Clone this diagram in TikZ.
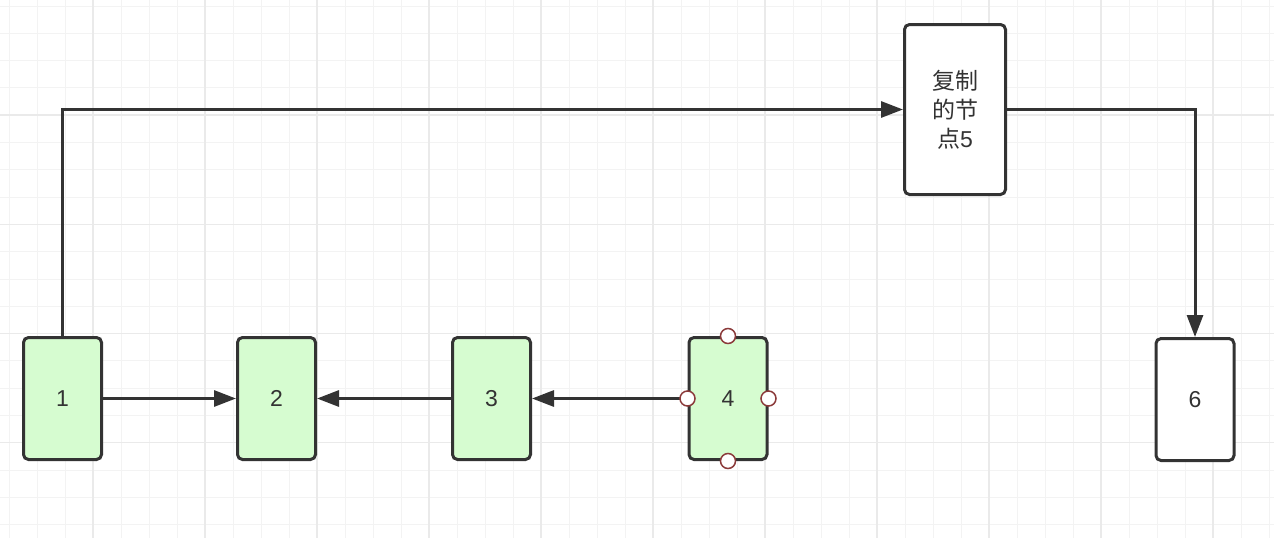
\documentclass[tikz,border=0pt]{standalone}
\usepackage{fontspec}
\setmainfont{Liberation Sans}
\newfontfamily\cjk{Noto Sans CJK SC}
\usetikzlibrary{arrows.meta}
\definecolor{ink}{HTML}{333333}
\definecolor{leaf}{HTML}{D6FCD0}
\definecolor{gridminor}{HTML}{F3F3F3}
\definecolor{gridmajor}{HTML}{EAEAEA}
\definecolor{handle}{HTML}{8B3A3A}
\begin{document}
\begin{tikzpicture}[x=1pt,y=-1pt,
  box/.style={draw=ink, line width=3pt, rounded corners=5pt, fill=white,
    minimum width=78pt, minimum height=122pt, inner sep=0pt, text=ink,
    font=\fontsize{23}{29}\selectfont},
  greenbox/.style={box, fill=leaf},
  link/.style={draw=ink, line width=3pt, -{Triangle[length=22pt,width=16pt]}},
  grip/.style={circle, draw=handle, fill=white, line width=1.5pt, minimum size=15pt, inner sep=0pt}]
  \useasboundingbox (0,0) rectangle (1274,538);
  \fill[white] (0,0) rectangle (1274,538);
  % background grid
  \foreach \i in {0,...,45} {
    \pgfmathsetmacro{\gx}{9+28*\i}
    \draw[gridminor, line width=1pt] (\gx,0) -- (\gx,538);
  }
  \foreach \j in {0,...,19} {
    \pgfmathsetmacro{\gy}{6+27.3*\j}
    \draw[gridminor, line width=1pt] (0,\gy) -- (1274,\gy);
  }
  \foreach \i in {0,...,10} {
    \pgfmathsetmacro{\gx}{93+112*\i}
    \draw[gridmajor, line width=1.3pt] (\gx,0) -- (\gx,538);
  }
  \foreach \j in {0,...,3} {
    \pgfmathsetmacro{\gy}{115+109.2*\j}
    \draw[gridmajor, line width=1.3pt] (0,\gy) -- (1274,\gy);
  }
  % list nodes
  \node[greenbox] (n1) at (62.5,398.5) {1};
  \node[greenbox] (n2) at (276.5,398.5) {2};
  \node[greenbox] (n3) at (491.5,398.5) {3};
  \node[greenbox] (n4) at (728,398.5) {4};
  \node[box, minimum width=101pt, minimum height=170pt, align=center] (n5) at (955,109.5)
    {\cjk 复制\\\cjk 的节\\\cjk 点\rmfamily 5};
  \node[box] (n6) at (1195,399.5) {6};
  % connectors
  \draw[link] (n1.north) |- (n5.west);
  \draw[link] (n1.east) -- (n2.west);
  \draw[link] (n3.west) -- (n2.east);
  \draw[link] (n4.west) -- (n3.east);
  \draw[link] (n5.east) -| (n6.north);
  % selection handles
  \node[grip] (h1) at (n4.north) {};
  \node[grip] (h2) at (n4.south) {};
  \node[grip] (h3) at (n4.east) {};
  \node[grip] (h4) at (n4.west) {};
\end{tikzpicture}
\end{document}
